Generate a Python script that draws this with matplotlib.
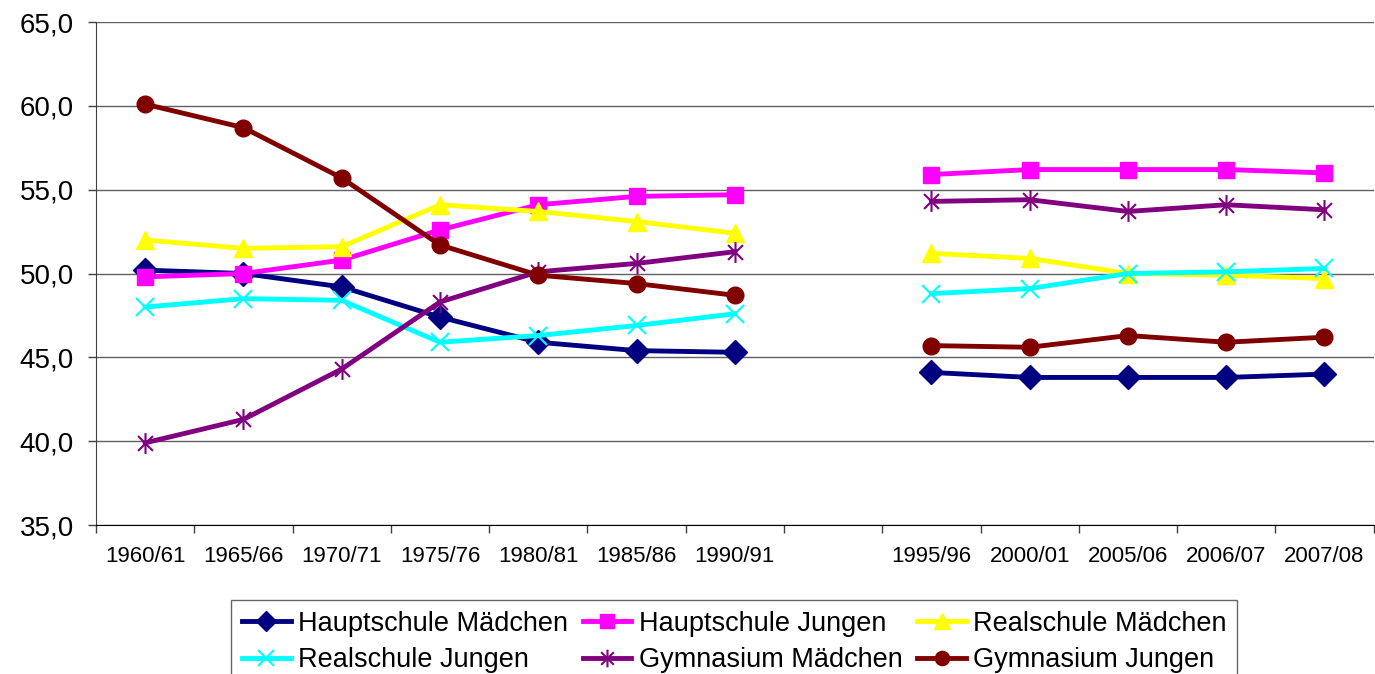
"""
Anteil Mädchen / Jungen nach Schulart (1960/61 - 2007/08)
"""
import numpy as np
import matplotlib
matplotlib.use('Agg')
import matplotlib.pyplot as plt
from matplotlib.path import Path
from matplotlib.ticker import FuncFormatter, FixedLocator

plt.rcParams['font.family'] = ['Liberation Sans', 'DejaVu Sans']

# Schuljahre, an Position 7 bleibt eine Lücke
years = ['1960/61', '1965/66', '1970/71', '1975/76', '1980/81', '1985/86', '1990/91',
         '', '1995/96', '2000/01', '2005/06', '2006/07', '2007/08']

haupt_m = [50.2, 50.0, 49.2, 47.4, 45.9, 45.4, 45.3, None, 44.1, 43.8, 43.8, 43.8, 44.0]
haupt_j = [49.8, 50.0, 50.8, 52.6, 54.1, 54.6, 54.7, None, 55.9, 56.2, 56.2, 56.2, 56.0]
real_m = [52.0, 51.5, 51.6, 54.1, 53.7, 53.1, 52.4, None, 51.2, 50.9, 50.0, 49.9, 49.7]
real_j = [48.0, 48.5, 48.4, 45.9, 46.3, 46.9, 47.6, None, 48.8, 49.1, 50.0, 50.1, 50.3]
gym_m = [39.9, 41.3, 44.3, 48.3, 50.1, 50.6, 51.3, None, 54.3, 54.4, 53.7, 54.1, 53.8]
gym_j = [60.1, 58.7, 55.7, 51.7, 49.9, 49.4, 48.7, None, 45.7, 45.6, 46.3, 45.9, 46.2]

# Excel-Stern: X mit senkrechtem Strich
star = Path([(-1, -1), (1, 1), (-1, 1), (1, -1), (0, -1.4), (0, 1.4)],
            [Path.MOVETO, Path.LINETO, Path.MOVETO, Path.LINETO, Path.MOVETO, Path.LINETO])

series = [
    ('Hauptschule Mädchen', haupt_m, '#000080', 'D', 12, {}),
    ('Hauptschule Jungen', haupt_j, '#FF00FF', 's', 12, {}),
    ('Realschule Mädchen', real_m, '#FFFF00', '^', 13, {}),
    ('Realschule Jungen', real_j, '#00FFFF', 'x', 13, {'markeredgewidth': 1.5}),
    ('Gymnasium Mädchen', gym_m, '#800080', star, 15, {'markeredgewidth': 1.5}),
    ('Gymnasium Jungen', gym_j, '#800000', 'o', 12, {}),
]

fig = plt.figure(figsize=(13.75, 6.74), dpi=100)
ax = fig.add_axes([96 / 1375, 1 - 525 / 674, 1 - 96 / 1375 - 0.001, (525 - 22) / 674])

x = np.arange(len(years))
handles = []
for name, vals, col, mk, ms, kw in series:
    y = np.array([np.nan if v is None else v for v in vals])
    h, = ax.plot(x, y, color=col, lw=3.5, marker=mk, ms=ms, mfc=col, mec=col,
                 label=name, zorder=3, **kw)
    handles.append(h)

ax.set_xlim(-0.5, len(years) - 0.5)
ax.set_ylim(35, 65)
ax.set_yticks(np.arange(35, 66, 5))
ax.yaxis.set_major_formatter(FuncFormatter(lambda v, p: f'{v:.1f}'.replace('.', ',')))
ax.grid(axis='y', color='#606060', lw=1)
ax.set_axisbelow(True)

ax.set_xticks(x)
ax.set_xticklabels(years, fontsize=16)
ax.xaxis.set_minor_locator(FixedLocator(np.arange(-0.5, len(years), 1)))
ax.tick_params(axis='x', which='major', length=0, pad=15)
ax.tick_params(axis='x', which='minor', length=6, width=1, color='#404040')
ax.tick_params(axis='y', labelsize=20, length=6, width=1, color='#404040', pad=10)

for s in ['top', 'right']:
    ax.spines[s].set_visible(False)
ax.spines['left'].set_color('#404040')
ax.spines['bottom'].set_color('black')

# Legende zeilenweise wie in Excel: matplotlib füllt spaltenweise
order = [0, 3, 1, 4, 2, 5]
leg = fig.legend([handles[i] for i in order], [series[i][0] for i in order],
                 loc='upper center', bbox_to_anchor=(0.534, 1 - 600 / 674), ncol=3,
                 fontsize=19.5, frameon=True, fancybox=False, edgecolor='#404040',
                 handlelength=1.8, handletextpad=0.26, columnspacing=0.55,
                 borderpad=0.4, labelspacing=0.38, borderaxespad=0, markerscale=0.85)
leg.get_frame().set_linewidth(1)

fig.savefig('out.png', dpi=100)
